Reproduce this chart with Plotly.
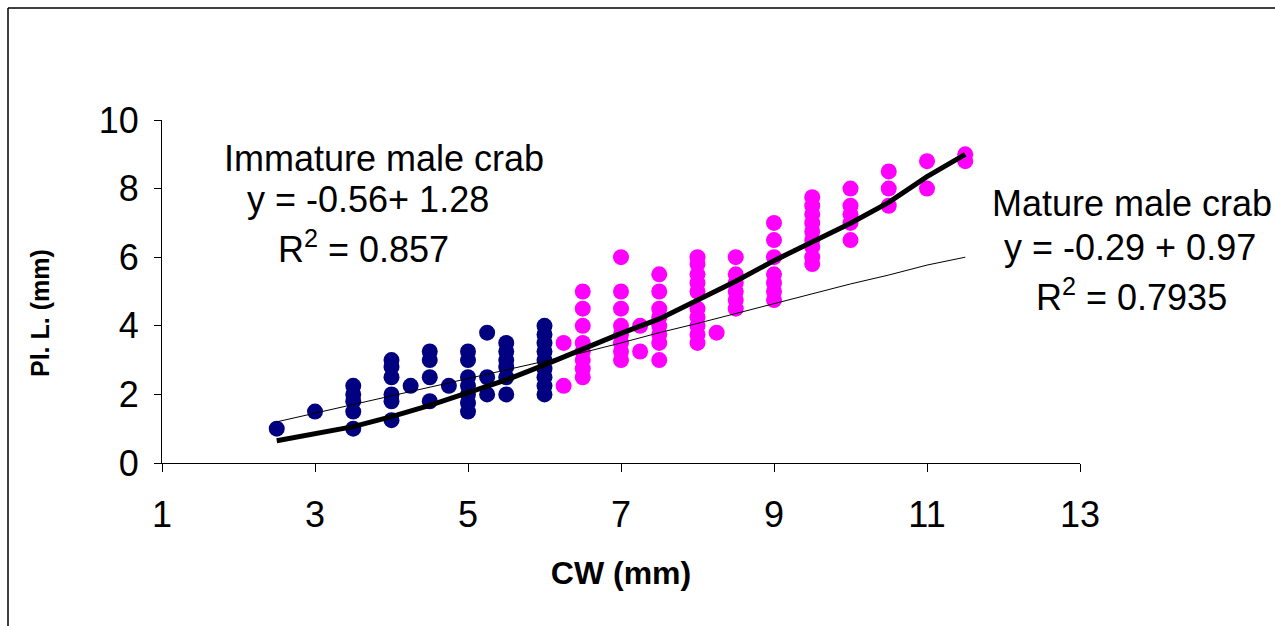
import plotly.graph_objects as go

# Immature male crab (navy)
imm_x = [2.5, 3,
         3.5, 3.5, 3.5, 3.5, 3.5,
         4, 4, 4, 4, 4, 4,
         4.25,
         4.5, 4.5, 4.5, 4.5,
         4.75,
         5, 5, 5, 5, 5, 5, 5,
         5.25, 5.25, 5.25,
         5.5, 5.5, 5.5, 5.5, 5.5, 5.5,
         6, 6, 6, 6, 6, 6, 6, 6, 6]
imm_y = [1.0, 1.5,
         1.0, 1.5, 1.8, 2.0, 2.25,
         1.25, 1.8, 2.0, 2.5, 2.8, 3.0,
         2.25,
         1.8, 2.5, 3.0, 3.25,
         2.25,
         1.5, 1.75, 2.0, 2.25, 2.5, 3.0, 3.25,
         2.0, 2.5, 3.8,
         2.0, 2.5, 2.8, 3.0, 3.25, 3.5,
         2.0, 2.25, 2.5, 2.75, 3.0, 3.25, 3.5, 3.75, 4.0]

# Mature male crab (magenta)
mat_x = [6.25, 6.25,
         6.5, 6.5, 6.5, 6.5, 6.5, 6.5, 6.5, 6.5,
         7, 7, 7, 7, 7, 7, 7, 7,
         7.25, 7.25,
         7.5, 7.5, 7.5, 7.5, 7.5, 7.5, 7.5, 7.5,
         8, 8, 8, 8, 8, 8, 8, 8, 8, 8,
         8.25,
         8.5, 8.5, 8.5, 8.5, 8.5, 8.5,
         9, 9, 9, 9, 9, 9, 9,
         9.5, 9.5, 9.5, 9.5, 9.5, 9.5, 9.5, 9.5, 9.5,
         10, 10, 10, 10, 10,
         10.5, 10.5, 10.5,
         11, 11,
         11.5, 11.5]
mat_y = [2.25, 3.5,
         2.5, 2.75, 3.0, 3.25, 3.5, 4.0, 4.5, 5.0,
         3.0, 3.25, 3.5, 3.75, 4.0, 4.5, 5.0, 6.0,
         3.25, 4.0,
         3.0, 3.5, 3.75, 4.0, 4.25, 4.5, 5.0, 5.5,
         3.5, 3.75, 4.0, 4.25, 4.5, 5.0, 5.25, 5.5, 5.8, 6.0,
         3.8,
         4.5, 4.75, 5.0, 5.25, 5.5, 6.0,
         4.75, 5.0, 5.25, 5.5, 6.0, 6.5, 7.0,
         5.8, 6.0, 6.3, 6.5, 6.75, 7.0, 7.25, 7.5, 7.75,
         6.5, 7.0, 7.25, 7.5, 8.0,
         7.5, 8.0, 8.5,
         8.0, 8.8,
         8.8, 9.0]

# Fitted lines
fit_x = [2.5, 3, 3.5, 4, 4.5, 5, 5.5, 6, 6.5, 7, 7.5, 8, 8.5, 9, 9.5, 10, 10.5, 11, 11.5]
thin_y = [1.2, 1.45, 1.72, 1.95, 2.2, 2.47, 2.71, 2.95, 3.22, 3.5, 3.8, 4.07,
          4.36, 4.66, 4.93, 5.22, 5.48, 5.77, 6.0]
thick_y = [0.65, 0.87, 1.06, 1.35, 1.68, 2.05, 2.42, 2.86, 3.32, 3.78, 4.2, 4.75,
           5.3, 5.9, 6.45, 6.99, 7.6, 8.35, 9.0]

FONT = "Arial, Liberation Sans, sans-serif"

fig = go.Figure()
fig.add_trace(go.Scatter(x=imm_x, y=imm_y, mode="markers",
                         marker=dict(color="#000080", size=16, line=dict(width=0)),
                         showlegend=False))
fig.add_trace(go.Scatter(x=mat_x, y=mat_y, mode="markers",
                         marker=dict(color="#FF00FF", size=16, line=dict(width=0)),
                         showlegend=False))
fig.add_trace(go.Scatter(x=fit_x, y=thin_y, mode="lines",
                         line=dict(color="black", width=1), showlegend=False))
fig.add_trace(go.Scatter(x=fit_x, y=thick_y, mode="lines",
                         line=dict(color="black", width=5), showlegend=False))

ann_font = dict(family=FONT, size=36, color="black")
annots = [
    ("Immature male crab", 0.2418, 0.889),
    ("y = -0.56+ 1.28", 0.2244, 0.767),
    ("R<sup>2</sup> = 0.857", 0.22, 0.63),
    ("Mature male crab", 1.0566, 0.758),
    ("y = -0.29 + 0.97", 1.0545, 0.627),
    ("R<sup>2</sup> = 0.7935", 1.0566, 0.49),
]
for txt, ax_, ay_ in annots:
    fig.add_annotation(x=ax_, y=ay_, xref="paper", yref="paper", text=txt, showarrow=False,
                       font=ann_font, xanchor="center", yanchor="middle")

# y-axis title (placed slightly below the plot's middle, as in the reference)
fig.add_annotation(x=(40 - 162) / 918, y=(463 - 313) / 343, xref="paper", yref="paper",
                   text="<b>Pl. L. (mm)</b>", showarrow=False, textangle=-90,
                   font=dict(family=FONT, size=25, color="black"),
                   xanchor="center", yanchor="middle")

# outer frame (left and top edges visible)
fig.add_shape(type="line", xref="paper", yref="paper",
              x0=(8 - 162) / 918, x1=(1275 - 162) / 918,
              y0=(463 - 8) / 343, y1=(463 - 8) / 343,
              line=dict(color="black", width=1.5))
fig.add_shape(type="line", xref="paper", yref="paper",
              x0=(8 - 162) / 918, x1=(8 - 162) / 918,
              y0=(463 - 8) / 343, y1=(463 - 640) / 343,
              line=dict(color="black", width=1.5))

fig.update_layout(
    width=1275, height=626,
    margin=dict(l=162, r=195, t=120, b=163),
    paper_bgcolor="white", plot_bgcolor="white",
    font=dict(family=FONT, color="black"),
)
fig.update_xaxes(range=[1, 13], tick0=1, dtick=2, showgrid=False, zeroline=False,
                 showline=True, linecolor="black", linewidth=1,
                 ticks="outside", ticklen=8, tickcolor="black",
                 tickfont=dict(size=36, family=FONT), ticklabelstandoff=12,
                 title=dict(text="<b>CW (mm)</b>", font=dict(size=32, family=FONT), standoff=27))
fig.update_yaxes(range=[0, 10], tick0=0, dtick=2, showgrid=False, zeroline=False,
                 showline=True, linecolor="black", linewidth=1,
                 ticks="outside", ticklen=7, tickcolor="black",
                 tickfont=dict(size=36, family=FONT), ticklabelstandoff=8)

fig.write_html("out.html")
